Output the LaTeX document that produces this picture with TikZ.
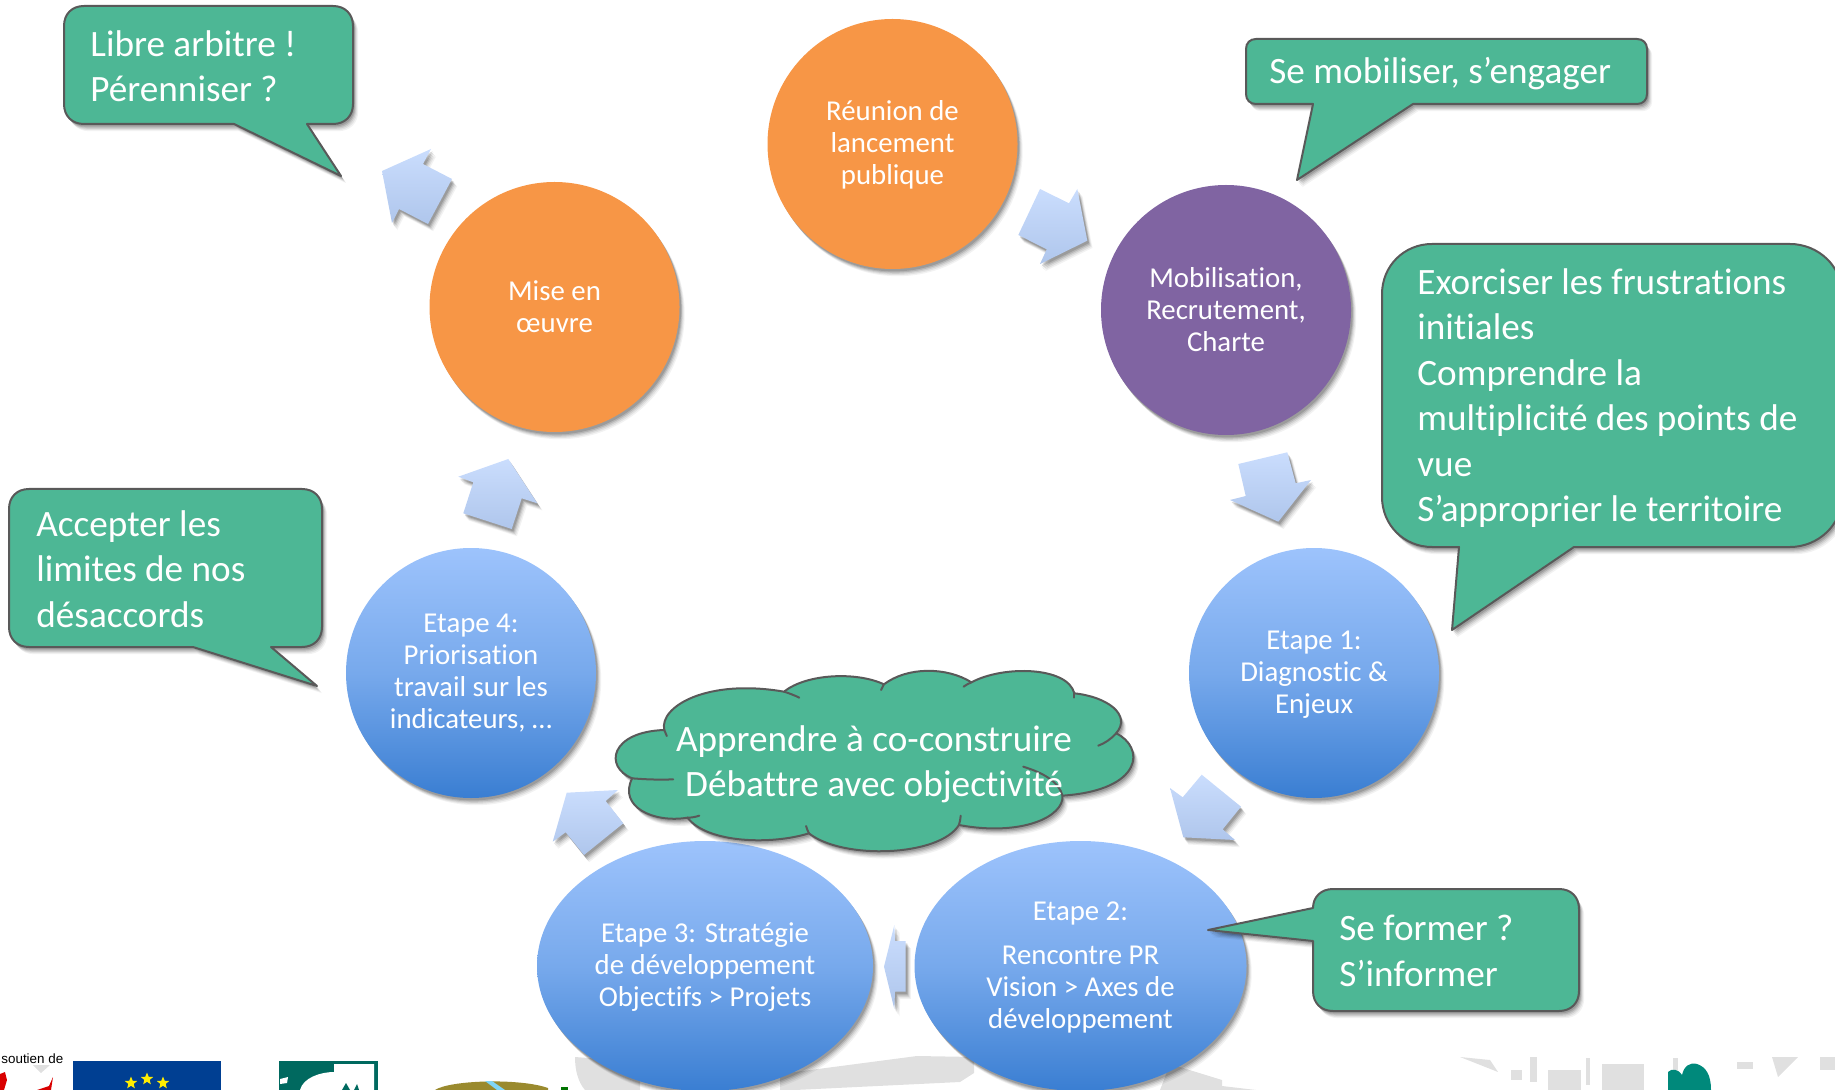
\documentclass[tikz,border=0pt]{standalone}
\usepackage{fontspec}
\setmainfont[RawFeature=-liga]{Carlito}
\newfontfamily\arialf{Liberation Sans}
\usetikzlibrary{shadows,shapes.geometric}
\newcommand\lowerfirst{\rule{0pt}{11pt}}
\definecolor{calfill}{HTML}{4DB795}
\definecolor{calline}{HTML}{595959}
\definecolor{orangec}{HTML}{F79646}
\definecolor{purplec}{HTML}{8064A2}
\definecolor{bluetop}{HTML}{9DC3FC}
\definecolor{bluemid}{HTML}{77A9EC}
\definecolor{bluebot}{HTML}{3A7ED2}
\definecolor{arrtop}{HTML}{CADDFD}
\definecolor{arrbot}{HTML}{AFC6EC}
\definecolor{logogray}{HTML}{E0E0E0}
\tikzset{
  softshadow/.style={
    general shadow={shadow xshift=2.6pt,shadow yshift=-3.6pt,shadow scale=1.0,fill=black,opacity=.05},
    general shadow={shadow xshift=2.1pt,shadow yshift=-3.0pt,shadow scale=1.0,fill=black,opacity=.07},
    general shadow={shadow xshift=1.6pt,shadow yshift=-2.4pt,shadow scale=1.0,fill=black,opacity=.09},
    general shadow={shadow xshift=1.2pt,shadow yshift=-1.8pt,shadow scale=1.0,fill=black,opacity=.12},
    general shadow={shadow xshift=.8pt,shadow yshift=-1.2pt,shadow scale=1.0,fill=black,opacity=.14}},
  disc/.style={circle,minimum size=125pt,inner sep=0pt,text=white,align=center,softshadow,
    font=\fontsize{14.4}{16}\selectfont},
  oval/.style={ellipse,inner sep=0pt,text=white,align=center,softshadow,
    font=\fontsize{14.4}{16}\selectfont},
  bluegrad/.style={top color=bluetop,bottom color=bluebot,middle color=bluemid},
  blockarrow/.style={top color=arrtop,bottom color=arrbot,middle color=arrtop!50!arrbot,draw=none,softshadow},
  callout/.style={fill=calfill,draw=calline,line width=1pt,line join=round,softshadow},
  calltext/.style={text=white,align=left,anchor=west,inner sep=0pt,
    font=\fontsize{18.6}{22.7}\selectfont},
  tick/.style={draw=calline,line width=1pt,line cap=round},
  graybit/.style={fill=logogray,draw=none},
}
\begin{document}
\begin{tikzpicture}[x=0.5pt,y=-0.5pt]
\useasboundingbox (0,0) rectangle (1835,1090);
\clip (0,0) rectangle (1835,1090);
% ---- cropped logos along the bottom edge
\node[anchor=base west,inner sep=0pt,font=\arialf\fontsize{6.7}{8}\selectfont] (soutien) at (1,1063) {soutien de};
\path[graybit] (33,1065) -- (50,1065) -- (41,1073) -- cycle;
\path[fill=red!85!black] (0,1074) -- (5,1072) -- (7,1080) -- (4,1090) -- (0,1090) -- cycle;
\path[fill=red!85!black] (53,1077) -- (49,1086) -- (37,1090) -- (51,1090) -- cycle;
\path[fill={rgb,255:red,0;green,63;blue,146}] (73,1061) rectangle (221,1090);
\foreach \sx/\sy/\sn in {131/1083/a,147/1079/b,163/1083/c}
  \node[star,star points=5,star point ratio=2.3,fill=yellow!95!orange,inner sep=0pt,minimum size=6.5pt] (star\sn) at (\sx,\sy) {};
\path[fill={rgb,255:red,0;green,105;blue,95}] (279,1061) rectangle (378,1090);
\path[fill=white] (300,1090) .. controls (303,1078) and (320,1072) .. (334,1072) -- (334,1064) -- (374,1064) -- (374,1090) -- cycle;
\path[fill={rgb,255:red,0;green,105;blue,95}] (342,1090) -- (346,1083) -- (350,1090) -- cycle (354,1090) -- (357,1084) -- (359,1090) -- cycle;
\path[fill=white] (280,1079) -- (288,1077) -- (287,1083) -- (280,1084) -- cycle;
\path[fill={rgb,255:red,154;green,138;blue,46}] (435,1090) .. controls (450,1080) and (520,1078) .. (548,1088) -- (548,1090) -- cycle;
\path[fill=cyan!50!white] (485,1081) -- (492,1081) -- (505,1090) -- (497,1090) -- cycle;
\path[fill=green!45!black] (561,1087) rectangle (568,1090);
\path[graybit] (575,1057) -- (640,1062) -- (640,1090) -- (585,1090) .. controls (578,1082) and (575,1070) .. (575,1057) -- cycle;
\path[graybit] (780,1074) -- (917,1056) -- (974,1057) -- (974,1073) -- (960,1082) -- (795,1090) -- (780,1090) -- cycle;
\path[graybit] (1170,1064) -- (1222,1080) -- (1222,1086) -- (1256,1090) -- (1160,1090) -- cycle;
\path[graybit] (1460,1057) -- (1490,1060) -- (1498,1072) -- cycle;
\foreach \ax/\ay/\bx/\by in {1511/1070/1522/1080, 1530/1057/1537/1082, 1548/1070/1581/1090, 1586/1058/1590/1085, 1602/1064/1644/1090, 1673/1058/1678/1075, 1737/1062/1753/1069, 1820/1057/1835/1070}
  \path[graybit] (\ax,\ay) rectangle (\bx,\by);
\path[graybit] (1772,1057) -- (1798,1057) -- (1778,1077) -- cycle;
\path[fill={rgb,255:red,0;green,137;blue,123}] (1668,1090) -- (1668,1072) .. controls (1672,1068) and (1678,1069) .. (1682,1075)
  .. controls (1684,1066) and (1690,1062) .. (1697,1064) .. controls (1706,1067) and (1711,1075) .. (1711,1090) -- cycle;
% ---- block arrows
\path[blockarrow] (1040,189) -- (1069,203.3) -- (1077.3,189) -- (1087.3,240.7) -- (1040,264) -- (1046.7,249.3) -- (1018.3,235) -- cycle;
\path[blockarrow] (1238.3,464) -- (1287.3,452.3) -- (1295.7,483.3) -- (1311,480) -- (1278.3,521.7) -- (1230,500) -- (1245.7,496) -- cycle;
\path[blockarrow] (1201.7,774.7) -- (1241,806.7) -- (1222.7,829.3) -- (1235,840) -- (1183.3,837.3) -- (1170,788) -- (1182.7,797.3) -- cycle;
\path[blockarrow] (905.7,941) -- (905.7,991.7) -- (895,991.7) -- (894.3,1009) -- (884,966.7) -- (894.3,925) -- (895,941) -- cycle;
\path[blockarrow] (623.3,823.3) -- (584,855) -- (565.7,832.3) -- (552.7,841.7) -- (566.7,792.7) -- (618,790) -- (605.7,801) -- cycle;
\path[blockarrow] (463.3,513.3) -- (511.7,529) -- (521.7,498.3) -- (537.3,503.3) -- (508.3,459) -- (458.3,476.7) -- (473.3,482.3) -- cycle;
\path[blockarrow] (452,179) -- (428,224) -- (399,209) -- (392,223) -- (382,171) -- (431,149) -- (423,164) -- cycle;
% ---- circles
\node[disc,fill=orangec] (reunion) at (892.5,144) {\lowerfirst Réunion de\\lancement\\publique};
\node[disc,fill=purplec] (mobil) at (1226,310) {Mobilisation,\\Recrutement,\\Charte};
\node[disc,fill=orangec] (mise) at (554.5,307) {Mise en\\œuvre};
\node[disc,bluegrad] (etape1) at (1314,673) {\lowerfirst Etape 1:\\Diagnostic \&\\Enjeux};
\node[disc,bluegrad] (etape4) at (471,673) {Etape 4:\\Priorisation\\travail sur les\\indicateurs, …};
\node[oval,bluegrad,minimum width=168pt,minimum height=125pt] (etape3) at (705,966) {\lowerfirst Etape 3: Stratégie\\de développement\\Objectifs > Projets};
\node[oval,bluegrad,minimum width=166pt,minimum height=125pt] (etape2) at (1080.5,966) {\lowerfirst Etape 2:\\[6pt]Rencontre PR\\Vision > Axes de\\développement};
% ---- callouts
\path[callout] (84,6) -- (333,6) .. controls (345,6) and (353,14) .. (353,26) -- (353,104) .. controls (353,116) and (345,124) .. (333,124)
  -- (307,124) -- (341,176) -- (234,124) -- (84,124) .. controls (72,124) and (64,116) .. (64,104) -- (64,26) .. controls (64,14) and (72,6) .. (84,6) -- cycle;
\node[calltext] (libre) at (90,66) {Libre arbitre !\\Pérenniser ?};
\path[callout] (1256,39) -- (1637,39) .. controls (1643,39) and (1647,43) .. (1647,49) -- (1647,94) .. controls (1647,100) and (1643,104) .. (1637,104)
  -- (1413,104) -- (1297,180) -- (1313,104) -- (1256,104) .. controls (1250,104) and (1246,100) .. (1246,94) -- (1246,49) .. controls (1246,43) and (1250,39) .. (1256,39) -- cycle;
\node[calltext] (mobilise) at (1269,74) {Se mobiliser, s’engager};
\path[callout] (1432,244) -- (1790,244) .. controls (1818,244) and (1842,266) .. (1842,294) -- (1842,497) .. controls (1842,525) and (1818,547) .. (1790,547)
  -- (1574,547) -- (1452,630) -- (1459,547) -- (1432,547) .. controls (1404,547) and (1382,525) .. (1382,497) -- (1382,294) .. controls (1382,266) and (1404,244) .. (1432,244) -- cycle;
\node[calltext] (exorc) at (1417,398) {Exorciser les frustrations\\initiales\\Comprendre la\\multiplicité des points de\\vue\\S’approprier le territoire};
\path[callout] (29,489) -- (302,489) .. controls (314,489) and (322,497) .. (322,509) -- (322,627) .. controls (322,639) and (314,647) .. (302,647)
  -- (271,647) -- (317,686) -- (193,647) -- (29,647) .. controls (17,647) and (9,639) .. (9,627) -- (9,509) .. controls (9,497) and (17,489) .. (29,489) -- cycle;
\node[calltext] (accepter) at (36,569) {Accepter les\\limites de nos\\désaccords};
\path[callout] (1333,889) -- (1559,889) .. controls (1571,889) and (1579,897) .. (1579,909) -- (1579,991) .. controls (1579,1003) and (1571,1011) .. (1559,1011)
  -- (1333,1011) .. controls (1321,1011) and (1313,1003) .. (1313,991) -- (1313,941) -- (1208,930) -- (1313,908) .. controls (1313,897) and (1321,889) .. (1333,889) -- cycle;
\node[calltext] (former) at (1339,951) {Se former ?\\S’informer};
% ---- cloud
\begin{scope}[shift={(600,650)},x=0.17857pt,y=-0.1666667pt]
\path[callout] (180,240) .. controls (165,170) and (300,85) .. (515,125)
  .. controls (580,70) and (720,65) .. (795,103)
  .. controls (860,50) and (970,50) .. (1040,97)
  .. controls (1130,45) and (1310,50) .. (1328,130)
  .. controls (1420,140) and (1490,195) .. (1445,250)
  .. controls (1525,290) and (1525,420) .. (1295,437)
  .. controls (1300,500) and (1180,560) .. (1005,525)
  .. controls (950,620) and (680,630) .. (585,550)
  .. controls (480,585) and (300,580) .. (245,503)
  .. controls (150,520) and (50,470) .. (90,385)
  .. controls (10,350) and (30,245) .. (180,240) -- cycle;
\path[tick] (515,125) .. controls (530,130) and (545,136) .. (558,143);
\path[tick] (795,103) .. controls (792,108) and (790,114) .. (787,120);
\path[tick] (1040,97) .. controls (1032,100) and (1025,105) .. (1018,110);
\path[tick] (1328,130) -- (1328,143);
\path[tick] (1445,250) .. controls (1430,268) and (1413,280) .. (1395,287);
\path[tick] (1295,437) .. controls (1285,395) and (1240,368) .. (1185,350);
\path[tick] (1005,525) .. controls (1008,515) and (1009,506) .. (1010,497);
\path[tick] (585,550) .. controls (582,543) and (579,536) .. (577,528);
\path[tick] (245,503) .. controls (256,503) and (267,501) .. (278,497);
\path[tick] (90,385) .. controls (125,388) and (165,390) .. (205,388);
\path[tick] (180,240) -- (187,258);
\end{scope}
\node[text=white,align=center,inner sep=0pt,font=\fontsize{18.6}{22.7}\selectfont] (cloudtext) at (874,764.5) {Apprendre à co-construire\\Débattre avec objectivité};
\end{tikzpicture}
\end{document}
